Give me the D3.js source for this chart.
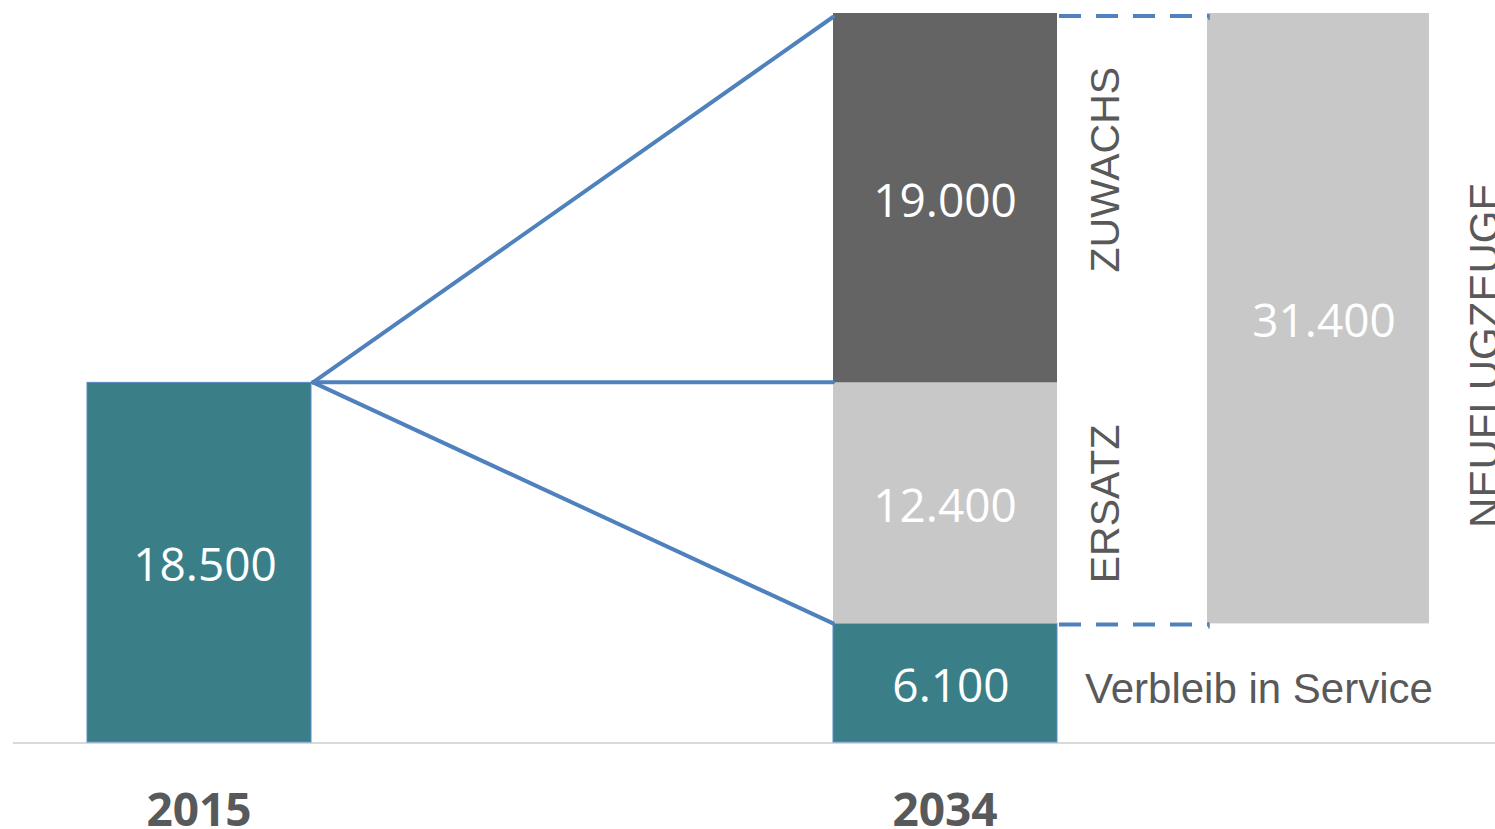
<!DOCTYPE html>
<html>
<head>
<meta charset="utf-8">
<script src="https://cdn.jsdelivr.net/npm/d3@7"></script>
<style>
html,body{margin:0;padding:0;background:#fff;overflow:hidden;}
svg{display:block;}
</style>
</head>
<body>
<svg id="chart" width="1495" height="829"></svg>
<script>
// ---- data ----
const categories = ["2015", "gap", "2034", "Neuflugzeuge"];
const axisLabels = ["2015", "2034"];
const bestand2015 = 18500;
const segments2034 = [
  {name: "Verbleib in Service", value: 6100},
  {name: "ERSATZ", value: 12400},
  {name: "ZUWACHS", value: 19000}
];
const neuflugzeuge = 31400;
const valueLabels = ["18.500", "6.100", "12.400", "19.000", "31.400"];
const sideLabels = ["Verbleib in Service", "ERSATZ", "ZUWACHS", "NEUFLUGZEUGE"];

// ---- scales ----
const svg = d3.select("#chart");
const x = d3.scalePoint().domain(categories).range([199, 1318]);
const barW = 224;
const y = d3.scaleLinear().domain([0, 37500]).range([742, 13]);

const teal = "#3a7f88", dark = "#646464", light = "#c8c8c8", blue = "#4f81bd", txt = "#595959";
const numFont = "'Open Sans', sans-serif";
const lblFont = "'Liberation Sans', Arial, sans-serif";

// stacked 2034
let acc = 0;
const stack = segments2034.map(s => { const o = {name: s.name, y0: acc, y1: acc + s.value, value: s.value}; acc += s.value; return o; });
const total2034 = acc;
const segColors = {"Verbleib in Service": teal, "ERSATZ": light, "ZUWACHS": dark};

// baseline
svg.append("line").attr("x1", 13).attr("x2", 1495).attr("y1", y(0) + 1).attr("y2", y(0) + 1)
  .attr("stroke", "#d9d9d9").attr("stroke-width", 2);

// 2015 bar
svg.append("rect").attr("x", x("2015") - barW / 2).attr("width", barW)
  .attr("y", y(bestand2015)).attr("height", y(0) - y(bestand2015))
  .attr("fill", teal).attr("stroke", "#5b8bc9").attr("stroke-width", 1);

// 2034 stacked
svg.selectAll("rect.seg").data(stack).enter().append("rect").attr("class", "seg")
  .attr("x", x("2034") - barW / 2).attr("width", barW)
  .attr("y", d => y(d.y1)).attr("height", d => y(d.y0) - y(d.y1))
  .attr("fill", d => segColors[d.name])
  .attr("stroke", d => d.name === "Verbleib in Service" ? "#5b8bc9" : "none").attr("stroke-width", 1);

// Neuflugzeuge bar
const neuBase = segments2034[0].value;
svg.append("rect").attr("x", x("Neuflugzeuge") - barW / 2 + 1).attr("width", barW - 2)
  .attr("y", y(neuBase + neuflugzeuge)).attr("height", y(neuBase) - y(neuBase + neuflugzeuge))
  .attr("fill", light);

// blue fan lines
const start = [x("2015") + barW / 2 + 2, y(bestand2015)];
const x2034L = x("2034") - barW / 2;
[total2034, stack[0].y1 + stack[1].value === bestand2015 ? bestand2015 : stack[1].y1, stack[0].y1].forEach((v, i) => {
  const ty = i === 0 ? y(v) + 4 : y(v);
  svg.append("line").attr("x1", start[0]).attr("y1", start[1]).attr("x2", x2034L).attr("y2", ty)
    .attr("stroke", blue).attr("stroke-width", 4).attr("stroke-linecap", "round");
});

// dashed brackets
const dx0 = x("2034") + barW / 2 + 2, dx1 = x("Neuflugzeuge") - barW / 2 + 3;
[[y(total2034) + 3, 1], [y(neuBase) + 1, -1]].forEach(([yy, dir]) => {
  svg.append("line").attr("x1", dx0).attr("x2", dx1).attr("y1", yy).attr("y2", yy)
    .attr("stroke", blue).attr("stroke-width", 4).attr("stroke-dasharray", "22,15");
  svg.append("line").attr("x1", dx1).attr("x2", dx1).attr("y1", yy - 2).attr("y2", yy + 4 * (dir === 1 ? 1 : 1))
    .attr("stroke", blue).attr("stroke-width", 1.5);
});

// value labels
function numLabel(cx, v0, v1, text, color) {
  const mid = (y(v0) + y(v1)) / 2 + 2;
  svg.append("text").attr("x", cx).attr("y", mid + 17).attr("text-anchor", "middle")
    .attr("font-family", numFont).attr("font-size", 46).attr("fill", color).text(text);
}
numLabel(x("2015") + 6, 0, bestand2015, valueLabels[0], "#ffffff");
numLabel(x("2034") + 6, stack[0].y0, stack[0].y1, valueLabels[1], "#ffffff");
numLabel(x("2034"), stack[1].y0, stack[1].y1, valueLabels[2], "#ffffff");
numLabel(x("2034"), stack[2].y0, stack[2].y1, valueLabels[3], "#ffffff");
numLabel(x("Neuflugzeuge") + 6, neuBase, neuBase + neuflugzeuge, valueLabels[4], "#ffffff");

// side labels
svg.append("text").attr("x", 1085).attr("y", (y(stack[0].y0) + y(stack[0].y1)) / 2 + 20)
  .attr("font-family", lblFont).attr("font-size", 42).attr("fill", txt).text(sideLabels[0]);

function vLabel(bx, cy, text, size) {
  svg.append("text").attr("transform", `translate(${bx},${cy}) rotate(-90)`)
    .attr("text-anchor", "middle").attr("font-family", lblFont).attr("font-size", size)
    .attr("fill", txt).text(text);
}
vLabel(1119, (y(stack[1].y0) + y(stack[1].y1)) / 2 + 1, sideLabels[1], 41);
vLabel(1119, (y(stack[2].y0) + y(stack[2].y1)) / 2 - 28, sideLabels[2], 41);
vLabel(1499, (y(neuBase) + y(neuBase + neuflugzeuge)) / 2 + 37, sideLabels[3], 42);

// category axis labels
svg.selectAll("text.cat").data(axisLabels).enter().append("text").attr("class", "cat")
  .attr("x", d => x(d)).attr("y", 826).attr("text-anchor", "middle")
  .attr("font-family", numFont).attr("font-weight", 700).attr("font-size", 46)
  .attr("fill", "#58595b").text(d => d);
</script>
</body>
</html>
